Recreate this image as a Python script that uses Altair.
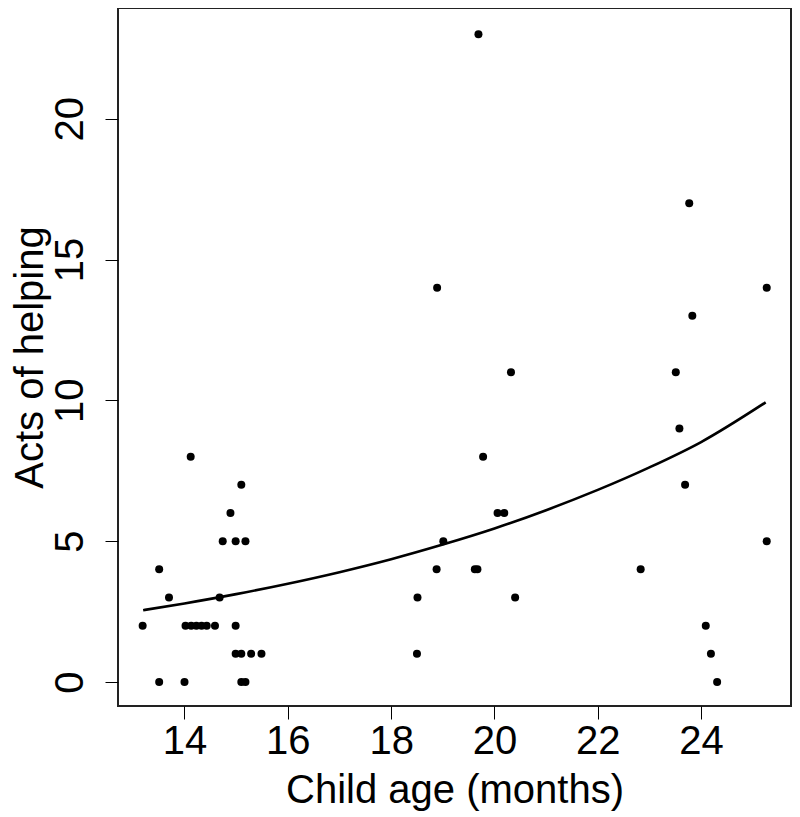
import altair as alt
import pandas as pd

# Scatter data
ages = [13.19, 13.51, 13.51, 13.70, 14.00, 14.12, 14.02, 14.13, 14.23, 14.33,
        14.43, 14.59, 14.68, 14.74, 14.89, 14.99, 14.99, 14.99, 15.10, 15.10,
        15.10, 15.18, 15.18, 15.29, 15.49, 18.50, 18.51, 18.88, 18.89, 19.01,
        19.62, 19.67, 19.69, 19.78, 20.06, 20.19, 20.32, 20.40, 22.83, 23.51,
        23.58, 23.69, 23.77, 23.83, 24.09, 24.19, 24.31, 25.27, 25.27]
helping = [2, 4, 0, 3, 0, 8, 2, 2, 2, 2,
           2, 2, 3, 5, 6, 5, 2, 1, 7, 1,
           0, 5, 0, 1, 1, 1, 3, 4, 14, 5,
           4, 4, 23, 8, 6, 6, 11, 3, 4, 11,
           9, 7, 17, 13, 2, 1, 0, 14, 5]

# Fitted curve
curve_age = [13.2, 14, 15, 16, 17, 18, 19, 20, 21, 22, 23, 24, 25.25]
curve_val = [2.55, 2.79, 3.12, 3.49, 3.90, 4.36, 4.88, 5.45, 6.10, 6.82, 7.62, 8.52, 9.93]

x_ticks = [14, 16, 18, 20, 22, 24]
y_ticks = [0, 5, 10, 15, 20]

pts = pd.DataFrame({"age": ages, "helping": helping})
fit = pd.DataFrame({"age": curve_age, "helping": curve_val})

FONT = "Liberation Sans"
W, H = 673, 698

xscale = alt.Scale(domain=[12.713, 25.74], nice=False, zero=False)
yscale = alt.Scale(domain=[-0.852, 23.93], nice=False, zero=False)

xaxis = alt.Axis(values=x_ticks, title="Child age (months)", grid=False, domain=False,
                 tickSize=13, tickColor="black", tickWidth=1,
                 labelFont=FONT, labelFontSize=40, labelColor="black",
                 labelBaseline="alphabetic", labelPadding=34, labelFlush=False,
                 labelOverlap=False,
                 titleFont=FONT, titleFontSize=40, titleFontWeight="normal",
                 titleColor="black", titleBaseline="alphabetic", titleY=96,
                 titleX=W / 2, titleAlign="center")
yaxis = alt.Axis(values=y_ticks, title="Acts of helping", grid=False, domain=False,
                 tickSize=13, tickColor="black", tickWidth=1,
                 labelFont=FONT, labelFontSize=40, labelColor="black",
                 labelAngle=270, labelAlign="center", labelBaseline="alphabetic",
                 labelPadding=23, labelFlush=False, labelOverlap=False,
                 titleFont=FONT, titleFontSize=40, titleFontWeight="normal",
                 titleColor="black", titleAngle=270, titleAlign="center",
                 titleBaseline="alphabetic", titleX=-76, titleY=H / 2)

points = alt.Chart(pts).mark_circle(size=64, color="black", opacity=1).encode(
    x=alt.X("age:Q", scale=xscale, axis=xaxis),
    y=alt.Y("helping:Q", scale=yscale, axis=yaxis),
)

line = alt.Chart(fit).mark_line(color="black", strokeWidth=2.6, interpolate="monotone").encode(
    x=alt.X("age:Q", scale=xscale),
    y=alt.Y("helping:Q", scale=yscale),
)

chart = (points + line).properties(
    width=W, height=H,
    autosize=alt.AutoSizeParams(type="none"),
    padding={"left": 110, "top": 0, "right": 1, "bottom": 109},
    background="white",
).configure_view(stroke="#222222", strokeWidth=2)

chart.save("out.html", embed_options={"renderer": "svg", "actions": False})
